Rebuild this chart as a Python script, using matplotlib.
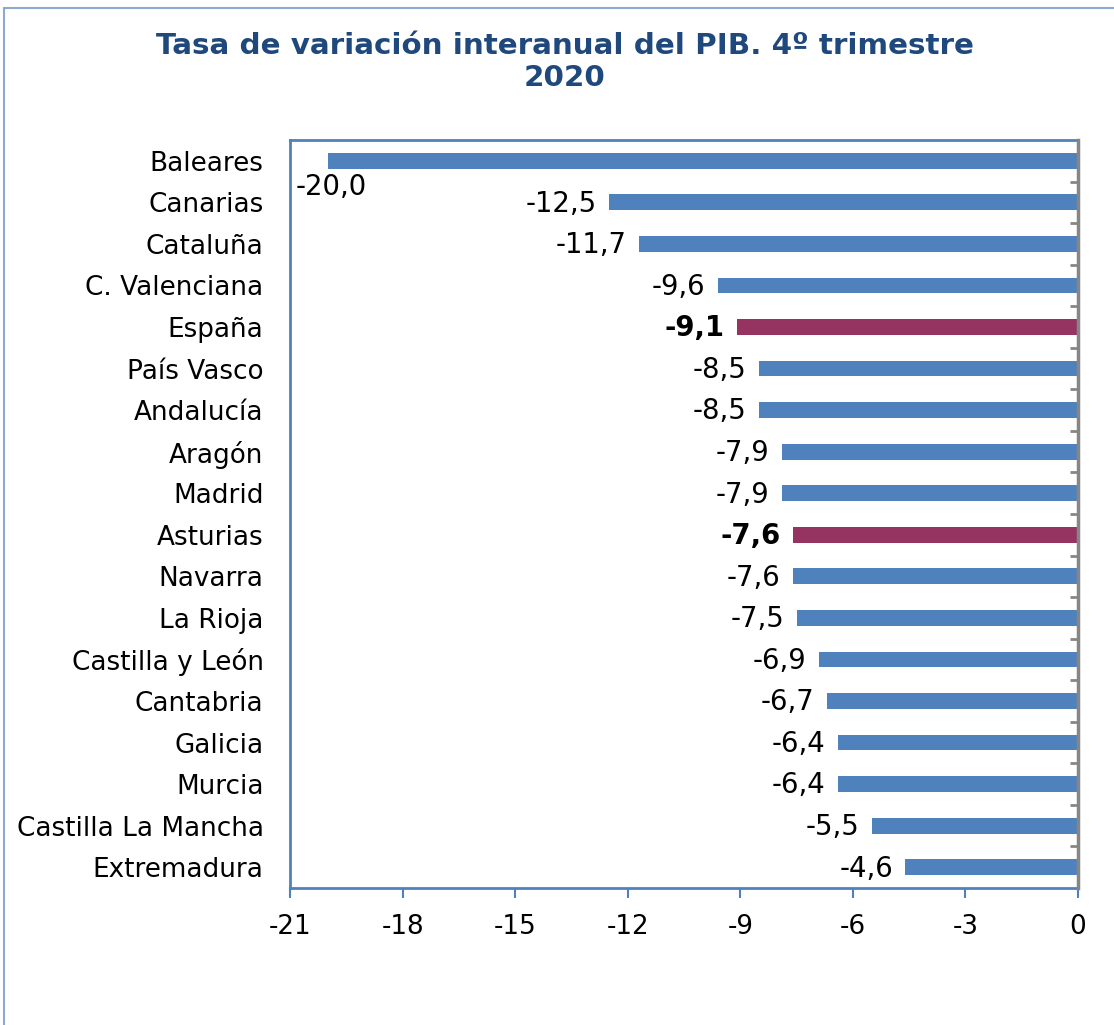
import matplotlib
matplotlib.use("Agg")
import matplotlib.pyplot as plt
from matplotlib.patches import Rectangle
from matplotlib.ticker import FixedLocator

regions = ["Baleares", "Canarias", "Cataluña", "C. Valenciana", "España", "País Vasco",
           "Andalucía", "Aragón", "Madrid", "Asturias", "Navarra", "La Rioja",
           "Castilla y León", "Cantabria", "Galicia", "Murcia", "Castilla La Mancha",
           "Extremadura"]
values = [-20.0, -12.5, -11.7, -9.6, -9.1, -8.5, -8.5, -7.9, -7.9, -7.6, -7.6, -7.5,
          -6.9, -6.7, -6.4, -6.4, -5.5, -4.6]
highlight = ["España", "Asturias"]
xticks = [-21, -18, -15, -12, -9, -6, -3, 0]

BLUE = "#4F81BD"
RED = "#953461"
TITLE = "#1F497D"
FS = 18.9
FS_LAB = 19.8

plt.rcParams['font.family'] = ['DejaVu Sans']
fig = plt.figure(figsize=(11.14, 10.25), dpi=100)
fig.patches.append(Rectangle((4/1114, -0.1), 1.2, 1.1 - 8/1025, transform=fig.transFigure,
                             fill=False, edgecolor="#8EA9D0", linewidth=1.5))

ax = fig.add_axes([290/1114, 137/1025, 788/1114, 748/1025])
n = len(regions)
ypos = list(range(n))
colors = [RED if r in highlight else BLUE for r in regions]
ax.barh(ypos, values, height=0.38, color=colors, zorder=2)

ax.set_xlim(-21, 0)
ax.set_ylim(n - 0.5, -0.5)
ax.set_xticks(xticks)
ax.set_xticklabels([str(t) for t in xticks], fontsize=FS)
ax.tick_params(axis='x', direction='out', length=7, width=1.5, color=BLUE, pad=12)

ax.set_yticks(ypos)
ax.set_yticklabels(regions, fontsize=FS)
ax.tick_params(axis='y', which='major', length=0, pad=19)
ax.yaxis.set_minor_locator(FixedLocator([i + 0.5 for i in range(n - 1)]))
ax.tick_params(axis='y', which='minor', left=False, right=True, direction='in',
               length=6, width=2, color="#868686")

for s in ["left", "top", "bottom"]:
    ax.spines[s].set_color(BLUE)
    ax.spines[s].set_linewidth(2)
ax.spines["right"].set_color("#868686")
ax.spines["right"].set_linewidth(2.5)
ax.spines["right"].set_zorder(3)

for i, (r, v) in enumerate(zip(regions, values)):
    bold = r in highlight
    lab = f"{v:.1f}".replace(".", ",")
    if v <= -19:
        ax.annotate(lab, xy=(-21, i + 0.62), xytext=(4, 0), textcoords="offset points",
                    ha="left", va="center", fontsize=FS_LAB)
    else:
        ax.annotate(lab, xy=(v, i), xytext=(-9, -1), textcoords="offset points",
                    ha="right", va="center", fontsize=FS_LAB,
                    fontweight="bold" if bold else "normal")

fig.text(565/1114, 1 - 32/1025, "Tasa de variación interanual del PIB. 4º trimestre\n2020",
         ha="center", va="top", fontsize=21.2, fontweight="bold", color=TITLE,
         linespacing=1.2)

fig.savefig("out.png", dpi=100)
